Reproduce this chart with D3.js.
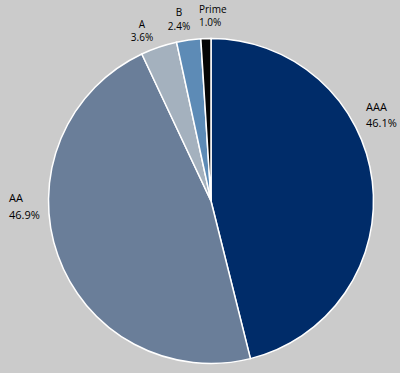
<!DOCTYPE html>
<html lang="en">
<head>
    <meta charset="UTF-8">
    <title>Rating Breakdown - Pie Chart</title>
    <script src="https://d3js.org/d3.v7.min.js"></script>
    <style>
        body {
            margin: 0;
            background-color: #cbcbcb;
        }

        .slice {
            stroke: #ffffff;
            stroke-width: 1.5px;
        }

        .label {
            font-family: "Open Sans", sans-serif;
            fill: #000;
        }
    </style>
</head>
<body>
    <svg id="chart"></svg>

    <script>
        // Data
        const ratings = ["AAA", "AA", "A", "B", "Prime"];
        const shares = [46.1, 46.9, 3.6, 2.4, 1.0];
        const shareLabels = ["46.1%", "46.9%", "3.6%", "2.4%", "1.0%"];

        const colors = ["#002c69", "#6a7e99", "#a4b1be", "#5d8bb6", "#050505"];

        // where each label sits (first line baseline), line gap, font size
        const labelLayout = [
            { x: 366, y: 110.5, gap: 16.5, size: 11, anchor: "start" },
            { x: 9, y: 202, gap: 16.5, size: 11, anchor: "start" },
            { x: 142, y: 27.5, gap: 13.8, size: 10, anchor: "middle" },
            { x: 179, y: 16.3, gap: 13.8, size: 10, anchor: "middle" },
            { x: 199, y: 12.5, gap: 13.8, size: 10, anchor: "start" }
        ];

        const width = 400;
        const height = 373;
        const radius = 162.5;
        const cx = 211;
        const cy = 201;

        const svg = d3.select("#chart")
            .attr("width", width)
            .attr("height", height);

        const rows = ratings.map((r, i) => ({ rating: r, value: shares[i], label: shareLabels[i], idx: i }));

        const pie = d3.pie()
            .sort(null)
            .value(d => d.value);

        const arc = d3.arc()
            .innerRadius(0)
            .outerRadius(radius);

        const g = svg.append("g")
            .attr("transform", `translate(${cx}, ${cy})`);

        g.selectAll("path")
            .data(pie(rows))
            .enter().append("path")
            .attr("class", "slice")
            .attr("d", arc)
            .attr("fill", d => colors[d.data.idx]);

        // labels: category name on top, percent below (one text, two lines)
        const labels = svg.selectAll(".label")
            .data(rows)
            .enter().append("text")
            .attr("class", "label")
            .attr("font-size", d => labelLayout[d.idx].size + "px")
            .attr("text-anchor", d => labelLayout[d.idx].anchor);

        labels.append("tspan")
            .attr("x", d => labelLayout[d.idx].x)
            .attr("y", d => labelLayout[d.idx].y)
            .text(d => d.rating);

        labels.append("tspan")
            .attr("x", d => labelLayout[d.idx].x)
            .attr("y", d => labelLayout[d.idx].y + labelLayout[d.idx].gap)
            .text(d => d.label);
    </script>
</body>
</html>
